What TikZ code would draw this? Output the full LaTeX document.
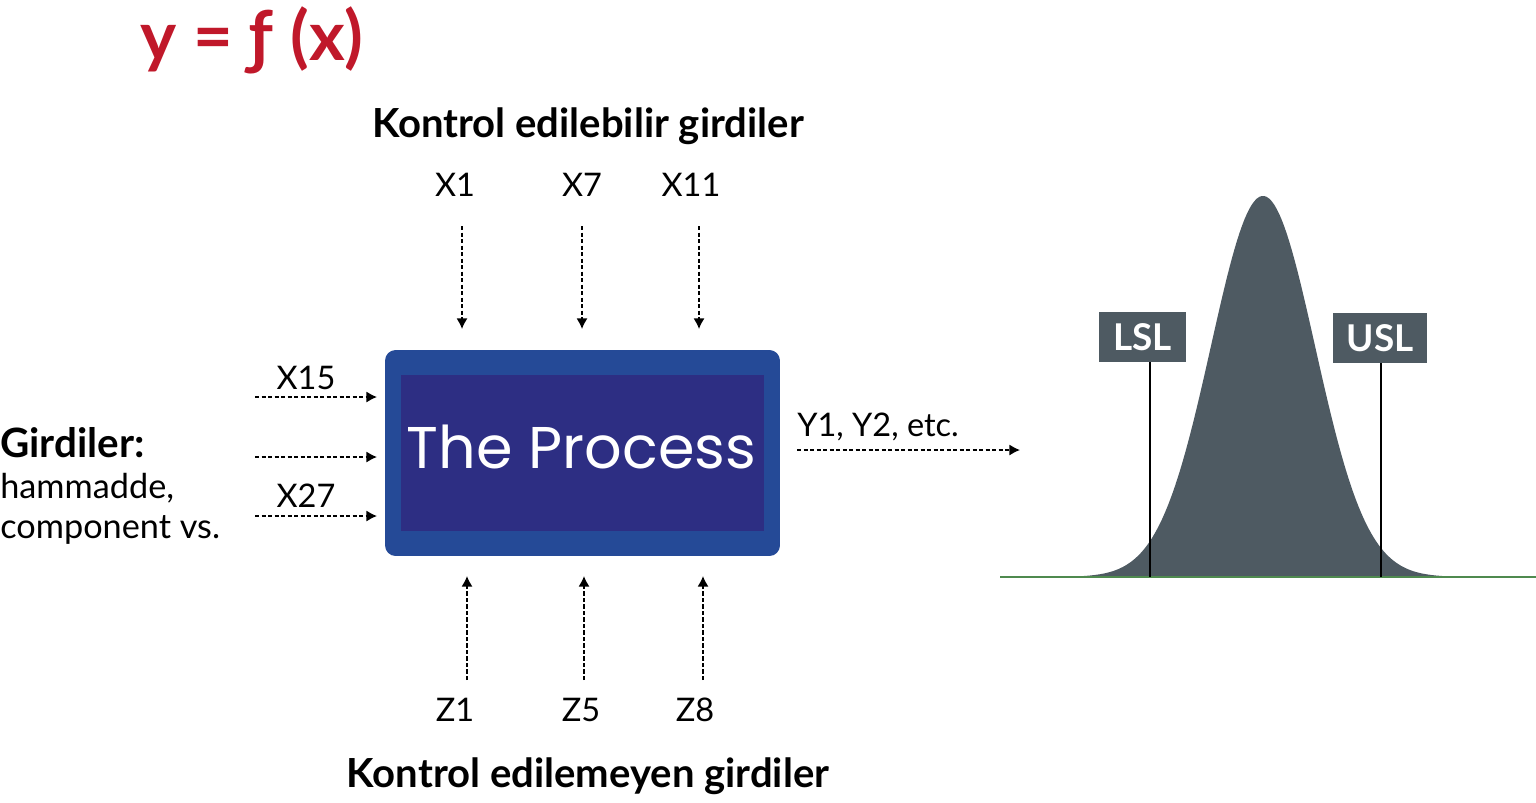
\documentclass[tikz,border=0pt]{standalone}
\usepackage{fontspec}
\setmainfont{Lato}
\newfontfamily\procfont{Poppins}
\usetikzlibrary{positioning,arrows.meta}
\definecolor{boxblue}{HTML}{254A97}
\definecolor{innerblue}{HTML}{2D2E83}
\definecolor{formulared}{HTML}{C0182A}
\definecolor{curvegray}{HTML}{4E5A62}
\definecolor{basegreen}{HTML}{4F8A4F}
\tikzset{>={Latex[length=6pt,width=6.3pt]}}
\tikzset{
    lbl/.style={inner sep=0pt, font=\fontsize{18.5}{22}\selectfont},
    headline/.style={inner sep=0pt, font=\bfseries\fontsize{22.8}{27}\selectfont},
    dasharr/.style={->, line width=0.9pt, dash pattern=on 2.4pt off 1.3pt},
    specbox/.style={fill=curvegray, text=white, inner sep=0pt, minimum height=1cm,
        font=\bfseries\fontsize{21}{25}\selectfont},
    specline/.style={line width=0.8pt}
}
\newcommand{\dashin}[5]{
    \coordinate (#1s) at (#2,#3);
    \coordinate (#1e) at (#4,#5);
    \draw[dasharr] (#1s) -- (#1e);
}

\begin{document}
\begin{tikzpicture}[x=0.02cm,y=-0.02cm]
    \useasboundingbox (0,0) rectangle (1536,802);
    % formula
    \node[anchor=west, inner sep=0pt, text=formulared, font=\bfseries\fontsize{39}{44}\selectfont] (formula) at (140,40) {y = ƒ (x)};
    % the process
    \node[fill=boxblue, rounded corners=6pt, minimum width=7.9cm, minimum height=4.12cm] (process) at (582.5,453) {};
    \node[fill=innerblue, minimum width=7.26cm, minimum height=3.12cm] (inner) at (582.5,453) {};
    \node[inner sep=0pt, text=white, font=\procfont\fontsize{33.5}{38}\selectfont] (proctext) at (581.5,447) {The Process};
    % controllable inputs
    \node[headline] (ctrl) at (588,126) {Kontrol edilebilir girdiler};
    \node[lbl] (x1) at (455,185) {X1};
    \node[lbl] (x7) at (582,185) {X7};
    \node[lbl] (x11) at (691,185) {X11};
    \dashin{a1}{462}{226}{462}{329}
    \dashin{a7}{582}{226}{582}{329}
    \dashin{a11}{699}{226}{699}{329}
    % uncontrollable inputs
    \node[headline] (unctrl) at (588,776) {Kontrol edilemeyen girdiler};
    \node[lbl] (z1) at (455,710) {Z1};
    \node[lbl] (z5) at (581,710) {Z5};
    \node[lbl] (z8) at (695,710) {Z8};
    \dashin{b1}{467}{680}{467}{576}
    \dashin{b5}{584}{680}{584}{576}
    \dashin{b8}{703}{680}{703}{576}
    % inputs on the left
    \node[anchor=west, inner sep=0pt, font=\bfseries\fontsize{23}{27}\selectfont] (gird) at (0,443) {Girdiler:};
    \node[anchor=west, inner sep=0pt, font=\fontsize{19.5}{23}\selectfont] (ham) at (0,488) {hammadde,};
    \node[anchor=west, inner sep=0pt, font=\fontsize{19.5}{23}\selectfont] (comp) at (0,530) {component vs.};
    \node[lbl] (x15) at (306,378) {X15};
    \node[lbl] (x27) at (306,496) {X27};
    \dashin{c1}{255}{397}{377}{397}
    \dashin{c2}{255}{457}{377}{457}
    \dashin{c3}{255}{516}{377}{516}
    % output
    \node[lbl, anchor=west] (yout) at (797,427) {Y1, Y2, etc.};
    \dashin{d1}{797}{450}{1020}{450}
    % distribution
    \fill[curvegray] plot[domain=1078:1448, samples=150]
        (\x,{577-381*exp(-((\x-1263)/52)^2/2)})
        -- (1448,577) -- (1078,577) -- cycle;
    \draw[basegreen, line width=1pt] (1000,577) -- (1536,577);
    \node[specbox, minimum width=1.74cm] (lsl) at (1142.5,337) {LSL};
    \node[specbox, minimum width=1.88cm] (usl) at (1380,338) {USL};
    \coordinate (lslb) at (1150,577);
    \coordinate (uslb) at (1381,577);
    \draw[specline] (lslb |- lsl.south) -- (lslb);
    \draw[specline] (uslb |- usl.south) -- (uslb);
\end{tikzpicture}
\end{document}
